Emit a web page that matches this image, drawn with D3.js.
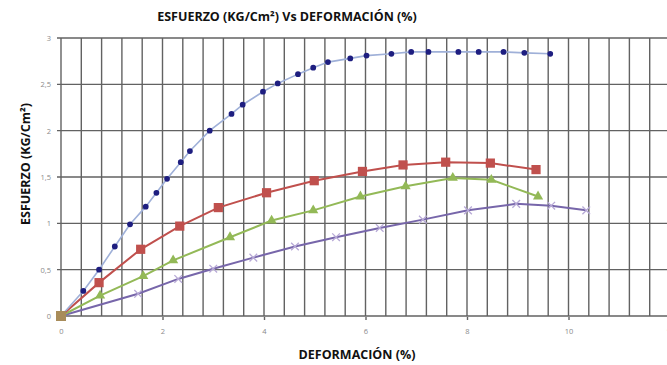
<!DOCTYPE html>
<meta charset="utf-8">
<script src="https://d3js.org/d3.v7.min.js"></script>
<style>
  body { margin: 0; background: #fff; font-family: "Open Sans", Arial, sans-serif; }
  .tick text { font: 7.5px "Open Sans", sans-serif; fill: #8a8a8a; }
  .titulo { font-weight: 700; fill: #111; }
</style>
<body>
<div id="chart"></div>
<script>

// datos: deformacion (%) y esfuerzo (kg/cm2)
var serieAzulX = [0, 0.44, 0.75, 1.06, 1.36, 1.67, 1.88, 2.09, 2.36, 2.54, 2.93, 3.36, 3.58, 3.98, 4.27, 4.67, 4.97, 5.26, 5.70, 6.02, 6.51, 6.90, 7.24, 7.83, 8.23, 8.72, 9.13, 9.64];
var serieAzulY = [0, 0.27, 0.50, 0.75, 0.99, 1.18, 1.33, 1.48, 1.66, 1.78, 2.00, 2.18, 2.28, 2.42, 2.51, 2.61, 2.68, 2.74, 2.78, 2.81, 2.83, 2.85, 2.85, 2.85, 2.85, 2.85, 2.84, 2.83];

var serieRojaX = [0, 0.75, 1.57, 2.34, 3.10, 4.05, 4.99, 5.94, 6.74, 7.58, 8.46, 9.36];
var serieRojaY = [0, 0.36, 0.72, 0.97, 1.17, 1.33, 1.46, 1.56, 1.63, 1.66, 1.65, 1.58];

var serieVerdeX = [0, 0.77, 1.62, 2.21, 3.33, 4.15, 4.97, 5.90, 6.79, 7.72, 8.48, 9.40];
var serieVerdeY = [0, 0.22, 0.43, 0.60, 0.85, 1.03, 1.14, 1.29, 1.40, 1.49, 1.47, 1.29];

var serieMoradaX = [0, 1.52, 2.31, 3.00, 3.79, 4.61, 5.42, 6.28, 7.13, 8.02, 8.97, 9.66, 10.35];
var serieMoradaY = [0, 0.24, 0.40, 0.51, 0.63, 0.75, 0.85, 0.95, 1.04, 1.14, 1.21, 1.19, 1.14];

var xTicks = [0, 2, 4, 6, 8, 10, 12];
var yTicks = [0, 0.5, 1, 1.5, 2, 2.5, 3];

var W = 667, H = 365;
var margin = {top: 38, right: -3, bottom: 49, left: 61};

var svg = d3.select("#chart").append("svg")
  .attr("width", W).attr("height", H);

var x = d3.scaleLinear().domain([0, 12]).range([margin.left, W - margin.right]);
var y = d3.scaleLinear().domain([0, 3]).range([H - margin.bottom, margin.top]);

// rejilla vertical cada 0.4
var g = svg.append("g");
g.selectAll(".vline")
  .data(d3.range(0, 12.01, 0.4))
  .enter().append("line")
  .attr("x1", function(d) { return x(d); })
  .attr("x2", function(d) { return x(d); })
  .attr("y1", y(3))
  .attr("y2", y(0))
  .attr("stroke", "#626262")
  .attr("stroke-width", 1.4);

// rejilla horizontal cada 0.5
g.selectAll(".hline")
  .data(yTicks)
  .enter().append("line")
  .attr("x1", x(0) - 4)
  .attr("x2", W)
  .attr("y1", function(d) { return y(d); })
  .attr("y2", function(d) { return y(d); })
  .attr("stroke", "#626262")
  .attr("stroke-width", 1.4);

var fmt = function(d) { return String(d).replace(".", ","); };

svg.append("g")
  .attr("transform", "translate(0," + (y(0) + 1) + ")")
  .call(d3.axisBottom(x).tickValues(xTicks).tickSize(3).tickPadding(9))
  .call(function(a) { a.select(".domain").remove(); a.selectAll("line").attr("stroke", "#626262").attr("stroke-width", 1.4); });

svg.append("g")
  .attr("transform", "translate(" + (x(0) - 6) + ",0)")
  .call(d3.axisLeft(y).tickValues(yTicks).tickFormat(fmt).tickSize(0).tickPadding(4))
  .call(function(a) { a.select(".domain").remove(); });

// series
var series = [
  {xs: serieMoradaX, ys: serieMoradaY, line: "#7766aa", mark: "#b7a9d6", sym: d3.symbolX, size: 40, stroke: true, w: 2},
  {xs: serieVerdeX, ys: serieVerdeY, line: "#93b957", mark: "#93b957", sym: d3.symbolTriangle, size: 45, stroke: false, w: 2},
  {xs: serieRojaX, ys: serieRojaY, line: "#c0504d", mark: "#c0504d", sym: d3.symbolSquare, size: 85, stroke: false, w: 2},
  {xs: serieAzulX, ys: serieAzulY, line: "#9fb0d8", mark: "#1e1e80", sym: d3.symbolCircle, size: 26, stroke: false, w: 1.6}
];

var linea = d3.line()
  .x(function(d) { return x(d[0]); })
  .y(function(d) { return y(d[1]); });

series.forEach(function(s) {
  var pts = s.xs.map(function(v, i) { return [v, s.ys[i]]; });
  svg.append("path")
    .datum(pts)
    .attr("d", linea)
    .attr("fill", "none")
    .attr("stroke", s.line)
    .attr("stroke-width", s.w);
  svg.selectAll(null)
    .data(pts)
    .enter().append("path")
    .attr("transform", function(d) { return "translate(" + x(d[0]) + "," + y(d[1]) + ")"; })
    .attr("d", d3.symbol().type(s.sym).size(s.size))
    .attr("fill", s.stroke ? "none" : s.mark)
    .attr("stroke", s.stroke ? s.mark : "none")
    .attr("stroke-width", 1.3);
});

// marcador combinado en el origen
svg.append("rect")
  .attr("x", x(0) - 5).attr("y", y(0) - 5)
  .attr("width", 10).attr("height", 10)
  .attr("fill", "#a88c5a");

// titulos
svg.append("text")
  .attr("class", "titulo")
  .attr("x", 287).attr("y", 21)
  .attr("text-anchor", "middle")
  .style("font-size", "12.5px")
  .text("ESFUERZO (KG/Cm²) Vs DEFORMACIÓN (%)");

svg.append("text")
  .attr("class", "titulo")
  .attr("x", 357).attr("y", 359)
  .attr("text-anchor", "middle")
  .style("font-size", "12.5px")
  .text("DEFORMACIÓN (%)");

svg.append("text")
  .attr("class", "titulo")
  .attr("transform", "translate(30,164) rotate(-90)")
  .attr("text-anchor", "middle")
  .style("font-size", "12.5px")
  .text("ESFUERZO (KG/Cm²)");

</script>
</body>
